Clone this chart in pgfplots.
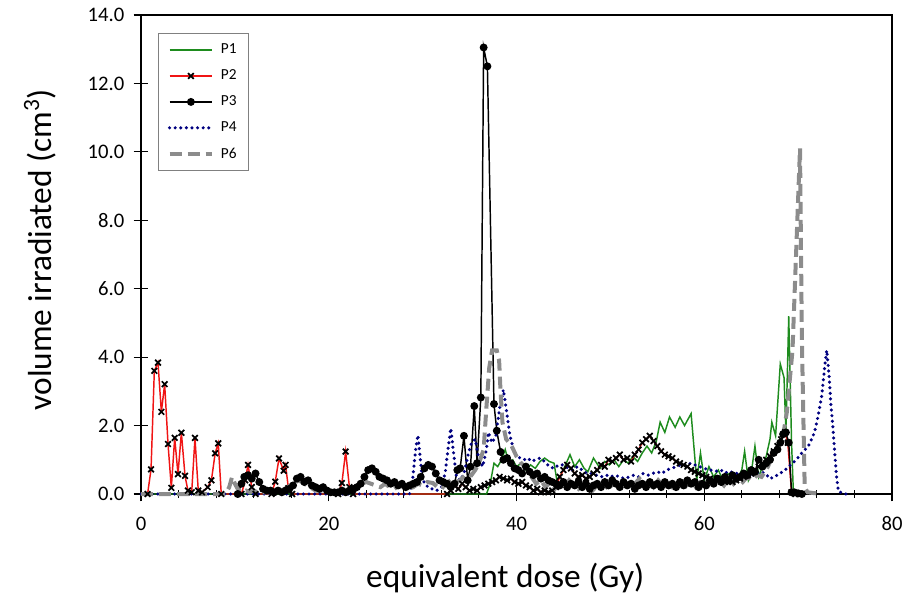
\documentclass[border=0pt]{standalone}
\usepackage{pgfplots}
\pgfplotsset{compat=1.18}
\usepackage{fontspec}
\setmainfont{Carlito}
\definecolor{pgreen}{RGB}{30,140,30}
\definecolor{pred}{RGB}{240,20,20}
\definecolor{pnavy}{RGB}{0,0,128}
\definecolor{pgray}{RGB}{140,140,140}
\begin{document}
\begin{tikzpicture}
\begin{axis}[
  scale only axis, width=563.25pt, height=359.25pt,
  xmin=0, xmax=80, ymin=0, ymax=14,
  xtick={0,20,40,60,80}, ytick={0,2,4,6,8,10,12,14},
  minor x tick num=4,
  xtick pos=bottom, ytick pos=left,
  tick align=center,
  major tick length=11pt, minor tick length=6pt,
  every tick/.style={black, line width=0.8pt},
  axis line style={black, line width=0.8pt},
  clip=false,
  /pgf/number format/assume math mode=true,
  tick label style={font=\fontsize{15.5}{18}\selectfont},
  y tick label style={xshift=-3.5pt, /pgf/number format/.cd, fixed, fixed zerofill, precision=1},
  x tick label style={yshift=-8pt, /pgf/number format/.cd, fixed, precision=0},
  xlabel={equivalent dose (Gy)},
  ylabel={volume irradiated (cm\textsuperscript{3})},
  label style={font=\fontsize{25}{29}\selectfont},
  xlabel style={at={(axis description cs:0.485,-0.175)}, anchor=center},
  ylabel style={at={(axis description cs:-0.1345,0.51)}, anchor=center},
  legend style={at={(0.0226,0.962)}, anchor=north west, draw=gray,
    font=\fontsize{11.5}{12}\selectfont, row sep=6.5pt, inner xsep=7pt, inner ysep=6pt,
    /tikz/every odd column/.append style={column sep=3pt}},
  legend cell align=left,
  legend image code/.code={\draw[mark repeat=2,mark phase=2,#1] plot coordinates {(0pt,0pt)(16pt,0pt)(32pt,0pt)};},
]
% P1
\addplot[color=pgreen, line width=1.1pt] coordinates {
(0,0) (36.8,0) (37.2,0.3) (37.6,0.9) (38.0,0.8) (38.4,1.0) (38.8,1.3) (39.2,0.9) (39.6,1.0) (40.0,0.8) (40.5,0.9) (41.0,0.7) (41.5,0.85) (42.0,0.75) (42.5,0.95) (43.0,1.05) (43.5,0.95) (44.0,0.9) (44.3,0.4) (44.8,0.6) (45.3,0.9) (45.7,1.15) (46.2,0.8) (46.7,1.0) (47.2,0.75) (47.6,0.65) (48.2,1.05) (48.9,0.75) (49.4,0.95) (49.9,0.85) (50.4,1.0) (50.9,0.8) (51.4,1.0) (51.9,0.9) (52.4,1.1) (52.9,0.95) (53.4,1.2) (53.9,1.4) (54.4,1.2) (54.9,1.55) (55.3,2.1) (55.8,1.8) (56.3,2.25) (56.9,1.95) (57.4,2.25) (57.9,2.0) (58.6,2.35) (59.2,0.4) (59.6,1.2) (60.0,0.4) (60.5,0.8) (61.0,0.5) (61.5,0.7) (62.0,0.4) (62.5,0.6) (63.0,0.5) (63.5,0.45) (64.0,0.7) (64.3,1.25) (64.7,0.4) (65.0,0.6) (65.4,1.4) (65.8,0.5) (66.2,0.8) (66.6,1.1) (67.0,1.6) (67.2,2.1) (67.6,1.7) (68.1,3.8) (68.5,3.4) (68.7,1.8) (69.0,5.2) (69.3,1.5) (69.5,0) (70.5,0)
};
\addlegendentry{P1}
% P2
\addplot[color=pred, line width=1.1pt, mark=x, mark size=3pt, mark options={draw=black, line width=1.3pt, solid}] coordinates {
(0.7,0) (1.07,0.72) (1.42,3.6) (1.81,3.84) (2.17,2.40) (2.52,3.21) (2.88,1.46) (3.23,0.18) (3.59,1.64) (3.94,0.58) (4.30,1.79) (4.69,0.53) (5.0,0.1) (5.4,0.05) (5.75,1.64) (6.1,0.1) (6.5,0.05) (7.1,0.2) (7.5,0.4) (7.9,1.19) (8.23,1.48) (8.55,0)
(10.7,0) (11.1,0.4) (11.4,0.85) (11.8,0.2) (12.2,0)
(13.9,0) (14.3,0.36) (14.7,1.04) (15.2,0.68) (15.4,0.85) (15.7,0.17) (16.1,0)
(21.0,0) (21.4,0.32) (21.8,1.24) (22.2,0.2) (22.6,0)
(32.6,0) (33.0,0.1) (33.4,0.25) (33.8,0.15) (34.2,0.3) (34.6,0.2) (35.0,0.1) (35.4,0.15) (35.8,0.1) (36.2,0.2) (36.6,0.25) (37.0,0.3) (37.4,0.35) (37.8,0.4) (38.2,0.5) (38.6,0.45) (39.0,0.4) (39.4,0.45) (39.8,0.35) (40.2,0.3) (40.6,0.35) (41.0,0.25) (41.4,0.2) (41.8,0.1) (42.2,0.15) (42.6,0.05) (43.0,0.1) (43.4,0.05) (43.8,0.1) (44.2,0.2) (44.6,0.5) (45.0,0.7) (45.4,0.85) (45.8,0.75) (46.2,0.6) (46.6,0.5) (47.0,0.55) (47.4,0.45) (47.8,0.5) (48.2,0.6) (48.6,0.7) (49.0,0.85) (49.4,0.8) (49.8,1.0) (50.2,0.95) (50.6,1.05) (51.0,1.15) (51.4,1.0) (51.8,1.05) (52.2,0.95) (52.6,1.15) (53.0,1.3) (53.4,1.5) (53.8,1.6) (54.2,1.7) (54.6,1.55) (55.0,1.4) (55.4,1.25) (55.8,1.15) (56.2,1.1) (56.6,1.05) (57.0,0.95) (57.4,0.9) (57.8,0.85) (58.2,0.8) (58.6,0.7) (59.0,0.65) (59.4,0.6) (59.8,0.55) (60.2,0.5) (60.6,0.45) (61.0,0.4) (61.4,0.45) (61.8,0.4) (62.2,0.35) (62.6,0.4) (63.0,0.35) (63.4,0.4) (63.8,0.45) (64.2,0.5) (64.6,0.55) (65.0,0.6) (65.4,0.7) (65.8,0.8) (66.2,0.9) (66.6,1.0) (67.0,1.1) (67.4,1.25) (67.8,1.4) (68.2,1.6) (68.6,1.8) (68.9,1.5) (69.3,0.05) (69.7,0) (70.1,0)
};
\addlegendentry{P2}
% P3
\addplot[color=black, line width=1.1pt, mark=*, mark size=2.4pt, mark options={solid}] coordinates {
(10.3,0) (10.7,0.3) (11.0,0.5) (11.4,0.55) (11.8,0.45) (12.2,0.6) (12.6,0.35) (13.0,0.15) (13.4,0.1) (13.8,0.1) (14.2,0.05) (14.6,0.1) (15.0,0.05) (15.4,0.1) (15.8,0.15) (16.2,0.25) (16.6,0.45) (17.0,0.5) (17.4,0.35) (17.8,0.4) (18.2,0.25) (18.6,0.2) (19.0,0.15) (19.4,0.2) (19.8,0.1) (20.2,0.05) (20.6,0.05) (21.0,0.05) (21.4,0.1) (21.8,0.05) (22.2,0.1) (22.6,0.15) (23.0,0.2) (23.4,0.3) (23.8,0.5) (24.2,0.7) (24.6,0.75) (25.0,0.65) (25.4,0.5) (25.8,0.45) (26.2,0.4) (26.6,0.3) (27.0,0.35) (27.4,0.25) (27.8,0.3) (28.2,0.2) (28.6,0.25) (29.0,0.3) (29.4,0.35) (29.8,0.5) (30.2,0.75) (30.6,0.85) (31.0,0.8) (31.4,0.6) (31.8,0.4) (32.2,0.35) (32.6,0.3) (33.0,0.2) (33.4,0.3) (33.7,0.7) (34.0,0.75) (34.4,1.7) (34.8,0.4) (35.1,0.8) (35.5,2.57) (35.8,0.9) (36.2,2.82) (36.5,13.05) (36.9,12.5) (37.6,2.63) (37.9,1.85) (38.3,1.23) (38.6,1.0) (39.0,1.05) (39.4,0.9) (39.8,0.75) (40.2,0.7) (40.6,0.6) (41.0,0.8) (41.4,0.65) (41.8,0.55) (42.2,0.6) (42.6,0.45) (43.0,0.5) (43.4,0.4) (43.8,0.35) (44.2,0.3) (44.6,0.25) (45.0,0.35) (45.4,0.2) (45.8,0.3) (46.2,0.25) (46.6,0.35) (47.0,0.2) (47.4,0.3) (47.8,0.15) (48.2,0.25) (48.6,0.3) (49.0,0.2) (49.4,0.35) (49.8,0.25) (50.2,0.4) (50.6,0.3) (51.0,0.2) (51.4,0.35) (51.8,0.25) (52.2,0.3) (52.6,0.15) (53.0,0.25) (53.4,0.3) (53.8,0.2) (54.2,0.35) (54.6,0.25) (55.0,0.3) (55.4,0.2) (55.8,0.35) (56.2,0.25) (56.6,0.3) (57.0,0.2) (57.4,0.35) (57.8,0.25) (58.2,0.4) (58.6,0.3) (59.0,0.35) (59.4,0.2) (59.8,0.3) (60.2,0.25) (60.6,0.4) (61.0,0.3) (61.4,0.45) (61.8,0.35) (62.2,0.5) (62.6,0.4) (63.0,0.55) (63.4,0.45) (63.8,0.5) (64.2,0.6) (64.6,0.55) (65.0,0.7) (65.4,0.65) (65.8,1.0) (66.2,0.8) (66.6,0.9) (67.0,1.0) (67.4,1.2) (67.8,1.3) (68.1,1.5) (68.4,1.75) (68.7,1.8) (69.0,1.5) (69.3,0.05) (69.6,0.05) (70.0,0.02) (70.4,0)
};
\addlegendentry{P3}
% P4
\addplot[color=pnavy, line width=2.6pt, line cap=round, dash pattern=on 0pt off 4.2pt] coordinates {
(0,0) (28.6,0) (28.9,0.3) (29.1,0.9) (29.3,1.4) (29.5,1.72) (29.7,1.2) (29.9,0.6) (30.2,0.3) (30.6,0.2) (31.0,0.15) (31.5,0.1) (32.0,0.2) (32.4,0.6) (32.7,1.3) (33.0,1.92) (33.3,1.2) (33.6,0.5) (34.0,0.4) (34.4,0.6) (34.8,1.1) (35.2,1.5) (35.6,1.6) (36.0,1.0) (36.4,0.8) (36.8,1.3) (37.0,1.8) (37.4,1.5) (37.8,1.7) (38.2,2.5) (38.6,3.05) (38.9,2.5) (39.3,1.7) (39.7,1.3) (40.0,1.1) (40.4,1.05) (40.8,1.0) (41.2,1.05) (41.6,0.95) (42.0,1.0) (42.5,1.05) (43.0,0.95) (43.5,0.8) (44.0,0.75) (44.5,0.85) (45.0,0.85) (45.5,0.75) (46.0,0.7) (46.5,0.8) (47.0,0.7) (47.5,0.6) (48.0,0.6) (48.5,0.55) (49.0,0.5) (49.6,0.55) (50.0,0.5) (50.5,0.55) (51.0,0.5) (51.5,0.45) (52.0,0.5) (52.5,0.55) (53.0,0.5) (53.5,0.6) (54.0,0.55) (54.5,0.6) (55.0,0.65) (55.5,0.6) (56.0,0.7) (56.5,0.75) (57.0,0.8) (57.5,0.85) (58.0,0.85) (58.6,0.9) (59.0,0.85) (59.5,0.8) (60.0,0.75) (60.5,0.7) (61.0,0.7) (61.5,0.65) (62.0,0.7) (62.5,0.6) (63.0,0.65) (63.5,0.6) (64.0,0.55) (64.5,0.6) (65.0,0.55) (65.5,0.6) (66.0,0.65) (66.5,0.6) (67.0,0.45) (67.5,0.5) (68.0,0.6) (68.4,0.65) (69.0,0.8) (69.8,1.0) (70.4,1.2) (71.1,1.4) (71.6,1.7) (71.9,1.97) (72.2,2.4) (72.5,2.85) (72.7,3.35) (72.9,3.9) (73.05,4.2) (73.3,3.45) (73.5,2.6) (73.7,1.95) (73.9,1.2) (74.1,0.5) (74.3,0.07) (75.1,0)
};
\addlegendentry{P4}
% P6
\addplot[color=pgray, line width=3pt, dash pattern=on 9pt off 4.5pt] coordinates {
(0,0) (9.0,0) (9.4,0.2) (9.7,0.5) (10.0,0.3) (10.4,0.1) (10.8,0.05) (11.2,0.1) (11.6,0.05) (12.0,0.1) (12.4,0.05) (13.0,0.05) (14.0,0.05) (15.0,0.1) (15.6,0.2) (16.2,0.3) (16.8,0.4) (17.4,0.3) (18.0,0.2) (18.6,0.1) (19.2,0.1) (20.0,0.05) (21.0,0.05) (22.0,0.1) (22.6,0.15) (23.0,0.17) (23.5,0.3) (24.0,0.35) (24.5,0.3) (25.0,0.25) (25.5,0.2) (26.0,0.3) (26.5,0.2) (27.0,0.15) (27.5,0.25) (28.0,0.2) (28.5,0.15) (29.0,0.2) (29.5,0.3) (30.0,0.25) (30.5,0.35) (31.1,0.32) (31.6,0.2) (32.0,0.15) (32.5,0.3) (33.2,0.45) (33.6,0.35) (34.0,0.4) (34.7,0.6) (35.2,0.55) (35.6,0.7) (36.0,0.9) (36.5,1.3) (36.8,2.55) (37.1,3.7) (37.4,4.2) (37.9,4.2) (38.15,3.9) (38.3,3.0) (38.5,2.1) (38.9,1.6) (39.4,1.45) (40.0,1.1) (40.5,0.9) (41.1,0.75) (41.6,0.5) (42.1,0.3) (42.6,0.4) (43.1,0.2) (43.6,0.35) (44.1,0.15) (44.6,0.3) (45.1,0.2) (45.6,0.4) (46.1,0.25) (46.6,0.15) (47.1,0.3) (47.6,0.2) (48.1,0.1) (48.6,0.25) (49.1,0.35) (49.6,0.2) (50.1,0.3) (50.6,0.15) (51.1,0.25) (51.6,0.35) (52.1,0.2) (52.6,0.3) (53.1,0.45) (53.6,0.3) (54.1,0.35) (54.6,0.2) (55.1,0.4) (55.6,0.25) (56.1,0.35) (56.6,0.2) (57.1,0.3) (57.6,0.45) (58.1,0.25) (58.6,0.4) (59.1,0.2) (59.6,0.35) (60.1,0.3) (60.6,0.45) (61.1,0.3) (61.6,0.4) (62.1,0.25) (62.6,0.45) (63.1,0.3) (63.6,0.5) (64.1,0.35) (64.6,0.5) (65.1,0.4) (65.6,0.55) (66.1,0.5) (66.6,0.7) (67.3,1.1) (67.8,1.3) (68.4,1.7) (68.8,2.4) (69.4,4.2) (70.2,10.1) (70.4,4.5) (70.7,0.2) (71.0,0.05) (72.5,0)
};
\addlegendentry{P6}
\end{axis}
\pgfresetboundingbox
\path[use as bounding box] ([xshift=-105.75pt,yshift=-78.75pt]current axis.south west) rectangle ([xshift=12.75pt,yshift=11.25pt]current axis.north east);
\end{tikzpicture}
\end{document}
